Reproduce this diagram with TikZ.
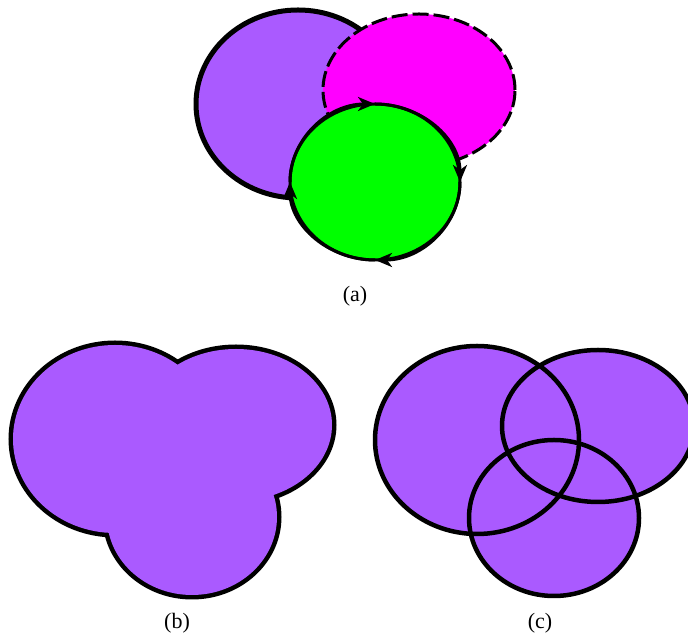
\documentclass[tikz,border=0pt]{standalone}
\usepackage{fontspec}
\setmainfont{Liberation Serif}
\usetikzlibrary{arrows.meta}
\definecolor{lilac}{RGB}{170,90,255}
\definecolor{pinkset}{RGB}{255,0,255}
\definecolor{greenset}{RGB}{0,255,0}
\begin{document}
\begin{tikzpicture}[x=1pt,y=1pt,
  sublabel/.style={font=\fontsize{22}{26}\selectfont},
  flow/.style={line width=3pt,-{Stealth[length=17pt,width=14pt,inset=5pt]}}]
  \useasboundingbox (0,0) rectangle (688,636);
  % (a) three regions, oriented boundary
  \begin{scope}[shift={(298,532)}]
    \filldraw[fill=lilac, line width=5pt] (0,0) ellipse[x radius=102, y radius=94];
    \filldraw[fill=pinkset, line width=3pt, dash pattern=on 16pt off 5pt]
      (121,14) ellipse[x radius=96, y radius=76];
    \filldraw[fill=greenset, line width=3pt] (77,-78) ellipse[x radius=85, y radius=78];
    % clockwise arrows on the circle
    \foreach \a in {180,90,0,-90}{
      \draw[flow] (77,-78) ++(\a:85 and 78)
        arc[start angle=\a, delta angle=-90, x radius=85, y radius=78];
    }
  \end{scope}
  \node[sublabel] (lbla) at (355,340) {(a)};
  % (b) union: wide outline, then fill over it
  \begin{scope}[shift={(115,197)}]
    \foreach \p/\rx/\ry in {{(0,0)}/102/94, {(121,14)}/96/76, {(77,-78)}/85/78}
      \draw[line width=9pt] \p ellipse[x radius=\rx, y radius=\ry];
    \foreach \p/\rx/\ry in {{(0,0)}/102/94, {(121,14)}/96/76, {(77,-78)}/85/78}
      \fill[lilac] \p ellipse[x radius=\rx, y radius=\ry];
  \end{scope}
  \node[sublabel] (lblb) at (177,13) {(b)};
  % (c) all three outlines kept
  \begin{scope}[shift={(477,196)}]
    \foreach \p/\rx/\ry in {{(0,0)}/102/94, {(121,14)}/96/76, {(77,-78)}/85/78}
      \fill[lilac] \p ellipse[x radius=\rx, y radius=\ry];
    \foreach \p/\rx/\ry in {{(0,0)}/102/94, {(121,14)}/96/76, {(77,-78)}/85/78}
      \draw[line width=4.5pt] \p ellipse[x radius=\rx, y radius=\ry];
  \end{scope}
  \node[sublabel] (lblc) at (540,13) {(c)};
\end{tikzpicture}
\end{document}
